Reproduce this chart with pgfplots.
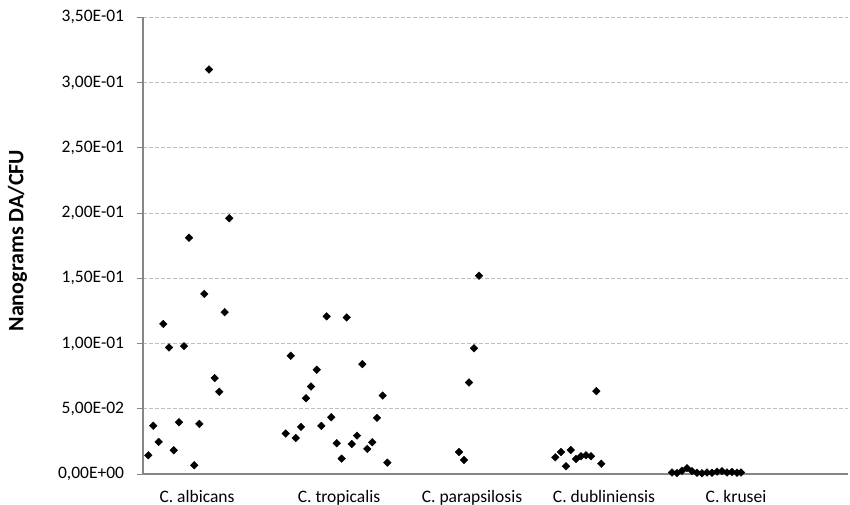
\documentclass[border=0pt]{standalone}
\usepackage{fontspec}
\setmainfont{Carlito}
\usepackage{pgfplots}
\pgfplotsset{compat=1.18}
\definecolor{axisgray}{HTML}{868686}
\definecolor{gridgray}{HTML}{BEBEBE}
\begin{document}
\begin{tikzpicture}[x=1pt,y=1pt]
\path[use as bounding box] (-143,-31) rectangle (707,474);
\begin{axis}[
  at={(0,0)}, anchor=south west,
  scale only axis, width=705pt, height=456.7pt,
  xmin=143, xmax=848, ymin=0, ymax=0.35,
  axis lines*=left,
  axis line style={axisgray, line width=1.3pt},
  ytick={0,0.05,0.10,0.15,0.20,0.25,0.30,0.35},
  yticklabels={{0,00E+00},{5,00E-02},{1,00E-01},{1,50E-01},{2,00E-01},{2,50E-01},{3,00E-01},{3,50E-01}},
  xtick={197,339,472,604,736},
  xticklabels={C. albicans, C. tropicalis, C. parapsilosis, C. dubliniensis, C. krusei},
  x tick style={draw=none},
  y tick style={axisgray, line width=1pt},
  tick align=outside, major tick length=6pt,
  ymajorgrids,
  grid style={gridgray, dash pattern=on 4pt off 2pt, line width=1pt},
  tick label style={font=\fontsize{17.5}{21}\selectfont},
  yticklabel style={inner sep=0pt, anchor=east, xshift=-12.7pt},
  xticklabel style={inner sep=0pt, anchor=base, yshift=-22pt},
  ylabel={Nanograms DA/CFU},
  ylabel style={at={(axis description cs:-0.178,0.511)}, anchor=center, font=\fontsize{22}{26}\selectfont\bfseries},
  clip=false,
]
% C. albicans
\addplot[only marks, mark=square*, mark size=2.7pt, mark options={rotate=45, fill=black, draw=black}] table {
209   0.310
229.3 0.196
189   0.181
204.3 0.138
224.7 0.124
163.3 0.115
169   0.097
184   0.098
214.7 0.0735
219.3 0.063
153.3 0.037
179   0.0397
199.3 0.0384
158.7 0.0246
173.7 0.0182
148.3 0.0143
194.3 0.0067
};
% C. tropicalis
\addplot[only marks, mark=square*, mark size=2.7pt, mark options={rotate=45, fill=black, draw=black}] table {
326.7 0.1208
346.7 0.120
290.7 0.0906
362.3 0.0842
316.7 0.0799
311   0.0671
306   0.0581
382.7 0.0601
331.3 0.0435
377   0.043
301   0.0361
321.3 0.0369
285.7 0.031
295.7 0.0276
357   0.0294
336.7 0.0236
351.7 0.023
372.3 0.0243
367.3 0.0192
341.7 0.0118
387.3 0.0087
};
% C. parapsilosis
\addplot[only marks, mark=square*, mark size=2.7pt, mark options={rotate=45, fill=black, draw=black}] table {
479 0.152
474 0.0963
469 0.0701
459 0.0169
464 0.0108
};
% C. dubliniensis
\addplot[only marks, mark=square*, mark size=2.7pt, mark options={rotate=45, fill=black, draw=black}] table {
596.3 0.0635
561   0.0169
570.7 0.0184
555.3 0.0128
566   0.0059
576   0.0115
581   0.0136
586   0.0143
591   0.0136
601.3 0.0079
};
% C. krusei
\addplot[only marks, mark=square*, mark size=2.7pt, mark options={rotate=45, fill=black, draw=black}] table {
672 0.0012
677 0.0008
682 0.0025
687 0.0045
692 0.0022
697 0.0010
702 0.0006
707 0.0012
712 0.0010
717 0.0018
722 0.0022
727 0.0012
732 0.0015
737 0.0010
741 0.0012
};
\end{axis}
\end{tikzpicture}
\end{document}
